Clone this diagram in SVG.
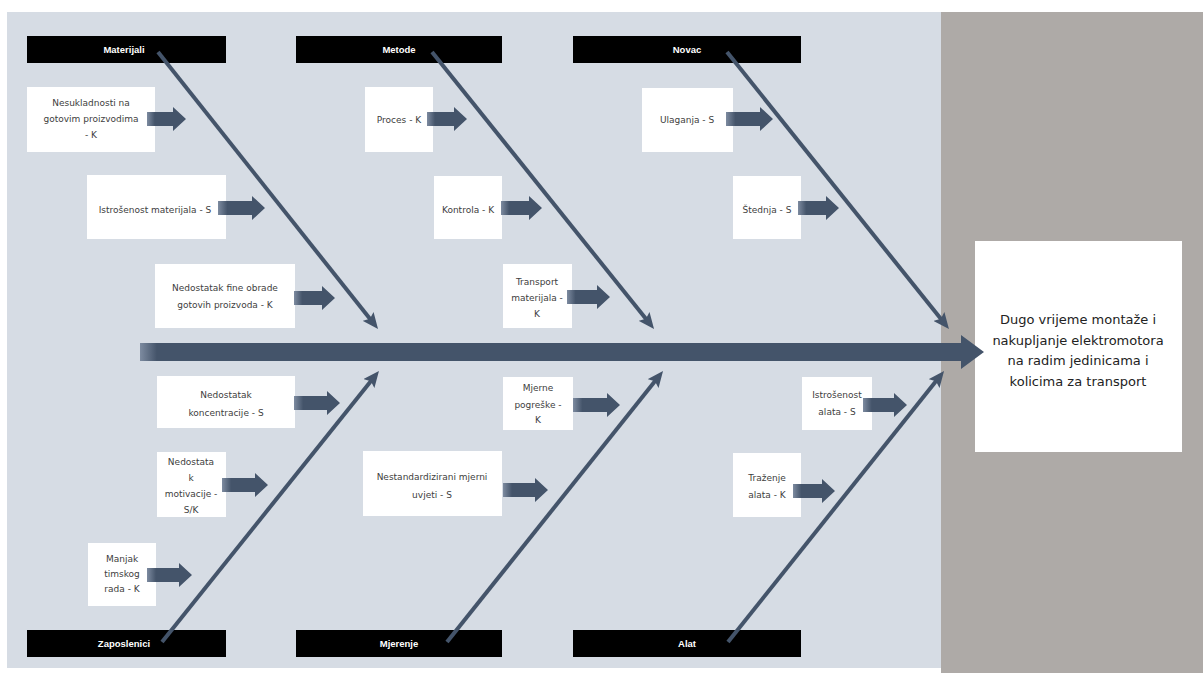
<svg xmlns="http://www.w3.org/2000/svg" width="1203" height="673" viewBox="0 0 1203 673">
<defs>
<style>
.cat{fill:#000}
.catt{fill:#fff;font-family:"Liberation Sans",Arial,sans-serif;font-weight:bold;font-size:9.5px;text-anchor:middle}
.box{fill:#fff}
.t{fill:#404040;font-family:"DejaVu Sans",sans-serif;font-size:9px;text-anchor:middle}
.eff{fill:#222;font-family:"DejaVu Sans",sans-serif;font-size:13px;text-anchor:middle}
.bone{stroke:#44546a;stroke-width:4;fill:none;marker-end:url(#ah)}
.ba{fill:url(#bg)}
</style>
<linearGradient id="bg" x1="0" y1="0" x2="1" y2="0">
<stop offset="0" stop-color="#7d8ba0"/>
<stop offset="0.2" stop-color="#44546a"/>
<stop offset="1" stop-color="#44546a"/>
</linearGradient>
<linearGradient id="sg" x1="0" y1="0" x2="1" y2="0">
<stop offset="0" stop-color="#7d8ba0"/>
<stop offset="0.02" stop-color="#44546a"/>
<stop offset="1" stop-color="#44546a"/>
</linearGradient>
<marker id="ah" markerUnits="userSpaceOnUse" markerWidth="16" markerHeight="14" refX="10" refY="7" orient="auto">
<path d="M0,0 L16,7 L0,14 L3,7 z" fill="#44546a"/>
</marker>
</defs>
<rect x="0" y="0" width="1203" height="673" fill="#fff"/>
<rect x="7" y="12" width="934" height="656" fill="#d6dce4"/>
<rect x="941" y="12" width="262" height="661" fill="#aeaaa7"/>

<g id="effect">
<rect class="box" x="975" y="241" width="207" height="211"/>
<text class="eff"><tspan x="1078" y="324">Dugo vrijeme montaže i</tspan><tspan x="1078" y="345">nakupljanje elektromotora</tspan><tspan x="1078" y="365">na radim jedinicama i</tspan><tspan x="1078" y="386">kolicima za transport</tspan></text>
</g>

<g id="cat-materijali"><rect class="cat" x="27" y="36" width="199" height="27"/><text class="catt" x="124" y="53">Materijali</text></g>
<g id="cat-metode"><rect class="cat" x="296" y="36" width="206" height="27"/><text class="catt" x="399" y="53">Metode</text></g>
<g id="cat-novac"><rect class="cat" x="573" y="36" width="228" height="27"/><text class="catt" x="687" y="53">Novac</text></g>
<g id="cat-zaposlenici"><rect class="cat" x="27" y="630" width="199" height="27"/><text class="catt" x="124" y="647">Zaposlenici</text></g>
<g id="cat-mjerenje"><rect class="cat" x="296" y="630" width="206" height="27"/><text class="catt" x="399" y="647">Mjerenje</text></g>
<g id="cat-alat"><rect class="cat" x="573" y="630" width="228" height="27"/><text class="catt" x="687" y="647">Alat</text></g>

<g id="connectors">
<polygon points="140,343 961,343 961,335 984,352 961,369 961,361 140,361" fill="url(#sg)"/>
<line class="bone" x1="158" y1="52" x2="374.3" y2="324.3"/>
<line class="bone" x1="432" y1="52" x2="650.3" y2="324.3"/>
<line class="bone" x1="727" y1="52" x2="945.2" y2="324.3"/>
<line class="bone" x1="162" y1="642" x2="375.2" y2="375.7"/>
<line class="bone" x1="447" y1="642" x2="659.3" y2="375.7"/>
<line class="bone" x1="728" y1="642" x2="940.3" y2="375.7"/>
</g>

<g id="c-nesukladnosti">
<rect class="box" x="27" y="87" width="128" height="65"/>
<text class="t"><tspan x="91" y="106">Nesukladnosti na</tspan><tspan x="91" y="122">gotovim proizvodima</tspan><tspan x="91" y="138">- K</tspan></text>
<polygon class="ba" points="147,112 173,112 173,107 186,119 173,131 173,126 147,126"/>
</g>
<g id="c-istrosenost-mat">
<rect class="box" x="87" y="175" width="139" height="64"/>
<text class="t" x="155" y="213">Istrošenost materijala - S</text>
<polygon class="ba" points="218,201 252,201 252,196 265,208 252,220 252,215 218,215"/>
</g>
<g id="c-fine-obrade">
<rect class="box" x="155" y="264" width="140" height="64"/>
<text class="t"><tspan x="225" y="291">Nedostatak fine obrade</tspan><tspan x="225" y="308">gotovih proizvoda - K</tspan></text>
<polygon class="ba" points="294,291 322,291 322,286 335,298 322,310 322,305 294,305"/>
</g>

<g id="c-proces">
<rect class="box" x="365" y="87" width="68" height="65"/>
<text class="t" x="399" y="123">Proces - K</text>
<polygon class="ba" points="427,112 454,112 454,107 467,119 454,131 454,126 427,126"/>
</g>
<g id="c-kontrola">
<rect class="box" x="434" y="176" width="68" height="63"/>
<text class="t" x="468" y="213">Kontrola - K</text>
<polygon class="ba" points="501,201 529,201 529,196 542,208 529,220 529,215 501,215"/>
</g>
<g id="c-transport">
<rect class="box" x="503" y="264" width="69" height="64"/>
<text class="t"><tspan x="537" y="285">Transport</tspan><tspan x="537" y="301">materijala -</tspan><tspan x="537" y="317">K</tspan></text>
<polygon class="ba" points="567,290 597,290 597,285 610,297 597,309 597,304 567,304"/>
</g>

<g id="c-ulaganja">
<rect class="box" x="642" y="88" width="91" height="64"/>
<text class="t" x="687" y="123">Ulaganja - S</text>
<polygon class="ba" points="726,112 760,112 760,107 773,119 760,131 760,126 726,126"/>
</g>
<g id="c-stednja">
<rect class="box" x="733" y="176" width="68" height="63"/>
<text class="t" x="767" y="213">Štednja - S</text>
<polygon class="ba" points="798,201 826,201 826,196 839,208 826,220 826,215 798,215"/>
</g>

<g id="c-koncentracije">
<rect class="box" x="157" y="376" width="138" height="52"/>
<text class="t"><tspan x="226" y="398">Nedostatak</tspan><tspan x="226" y="416">koncentracije - S</tspan></text>
<polygon class="ba" points="294,396 327,396 327,391 340,403 327,415 327,410 294,410"/>
</g>
<g id="c-motivacije">
<rect class="box" x="157" y="452" width="69" height="65"/>
<text class="t"><tspan x="191" y="465">Nedostata</tspan><tspan x="191" y="481">k</tspan><tspan x="191" y="497">motivacije -</tspan><tspan x="191" y="513">S/K</tspan></text>
<polygon class="ba" points="222,478 255,478 255,473 268,485 255,497 255,492 222,492"/>
</g>
<g id="c-timskog">
<rect class="box" x="88" y="543" width="68" height="63"/>
<text class="t"><tspan x="122" y="562">Manjak</tspan><tspan x="122" y="577">timskog</tspan><tspan x="122" y="592">rada - K</tspan></text>
<polygon class="ba" points="147,568 179,568 179,563 192,575 179,587 179,582 147,582"/>
</g>

<g id="c-mjerne">
<rect class="box" x="503" y="377" width="70" height="53"/>
<text class="t"><tspan x="538" y="391">Mjerne</tspan><tspan x="538" y="408">pogreške -</tspan><tspan x="538" y="423">K</tspan></text>
<polygon class="ba" points="573,398 607,398 607,393 620,405 607,417 607,412 573,412"/>
</g>
<g id="c-nestandardizirani">
<rect class="box" x="363" y="451" width="139" height="65"/>
<text class="t"><tspan x="432" y="480">Nestandardizirani mjerni</tspan><tspan x="432" y="498">uvjeti - S</tspan></text>
<polygon class="ba" points="503,483 535,483 535,478 548,490 535,502 535,497 503,497"/>
</g>

<g id="c-istrosenost-alata">
<rect class="box" x="802" y="377" width="70" height="53"/>
<text class="t"><tspan x="837" y="398">Istrošenost</tspan><tspan x="837" y="415">alata - S</tspan></text>
<polygon class="ba" points="863,398 894,398 894,393 907,405 894,417 894,412 863,412"/>
</g>
<g id="c-trazenje">
<rect class="box" x="733" y="453" width="68" height="64"/>
<text class="t"><tspan x="767" y="481">Traženje</tspan><tspan x="767" y="498">alata - K</tspan></text>
<polygon class="ba" points="793,484 822,484 822,479 835,491 822,503 822,498 793,498"/>
</g>
</svg>
